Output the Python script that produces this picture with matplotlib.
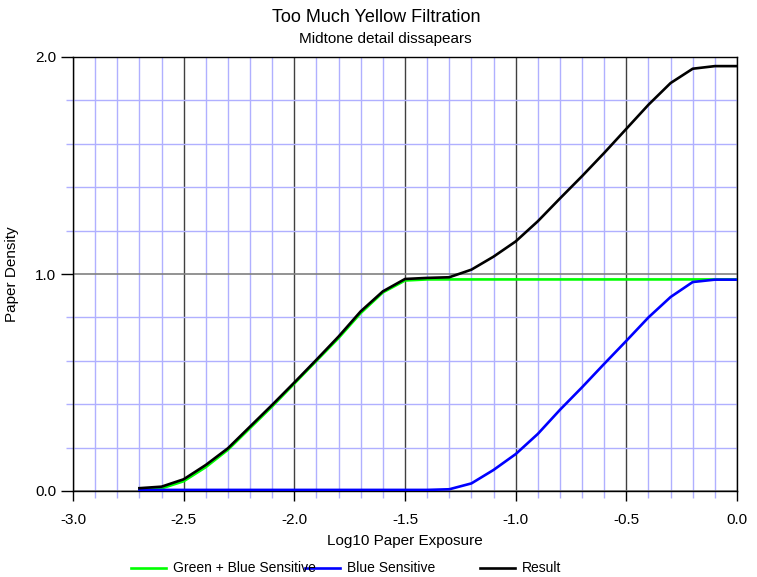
import numpy as np
import matplotlib
matplotlib.use('Agg')
import matplotlib.pyplot as plt
from matplotlib.lines import Line2D
from matplotlib.ticker import MultipleLocator, FormatStrFormatter

plt.rcParams['font.family'] = ['Liberation Sans', 'DejaVu Sans']

# log10 exposure
x = [-2.7, -2.6, -2.5, -2.4, -2.3, -2.2, -2.1, -2.0, -1.9, -1.8, -1.7, -1.6, -1.5,
     -1.4, -1.3, -1.2, -1.1, -1.0, -0.9, -0.8, -0.7, -0.6, -0.5, -0.4, -0.3, -0.2, -0.1, 0.0]

# 绿+蓝感光层
green_blue = [0.005, 0.012, 0.045, 0.11, 0.19, 0.29, 0.39, 0.495, 0.60, 0.705, 0.82, 0.915, 0.97,
              0.975, 0.975, 0.975, 0.975, 0.975, 0.975, 0.975, 0.975, 0.975, 0.975, 0.975, 0.975, 0.975, 0.975, 0.975]
# 蓝感光层
blue = [0.005, 0.005, 0.005, 0.005, 0.005, 0.005, 0.005, 0.005, 0.005, 0.005, 0.005, 0.005, 0.005,
        0.005, 0.008, 0.035, 0.097, 0.17, 0.263, 0.374, 0.478, 0.586, 0.692, 0.80, 0.894, 0.963, 0.974, 0.974]
# 结果
result = [0.013, 0.02, 0.054, 0.12, 0.197, 0.297, 0.397, 0.50, 0.605, 0.712, 0.828, 0.92, 0.977,
          0.982, 0.985, 1.02, 1.08, 1.15, 1.243, 1.348, 1.451, 1.558, 1.669, 1.78, 1.88, 1.946, 1.958, 1.958]

labels = ['Green + Blue Sensitive', 'Blue Sensitive', 'Result']
colors = ['#00ff00', '#0000ff', '#000000']

fig = plt.figure(figsize=(7.57, 5.77), dpi=100)
ax = fig.add_axes([73/757, 1-491/577, 664/757, 434/577])

ax.set_xlim(-3.0, 0.0)
ax.set_ylim(0.0, 2.0)
ax.xaxis.set_major_locator(MultipleLocator(0.5))
ax.xaxis.set_minor_locator(MultipleLocator(0.1))
ax.yaxis.set_major_locator(MultipleLocator(1.0))
ax.yaxis.set_minor_locator(MultipleLocator(0.2))
ax.xaxis.set_major_formatter(FormatStrFormatter('%.1f'))
ax.yaxis.set_major_formatter(FormatStrFormatter('%.1f'))

# 网格
ax.grid(which='minor', color='#b0b0ff', lw=1.0)
ax.grid(which='major', axis='x', color='#404040', lw=1.0)
ax.grid(which='major', axis='y', color='#808080', lw=1.2)
ax.set_axisbelow(True)

ax.tick_params(which='major', length=7, width=1, color='black', labelsize=11)
ax.tick_params(axis='x', which='major', pad=9)
ax.tick_params(which='minor', length=5, width=1, color='#b0b0ff')
ax.tick_params(axis='y', which='major', length=9, pad=3)

for s in ax.spines.values():
    s.set_color('black')
    s.set_linewidth(1.0)

data = [green_blue, blue, result]
for d, c in zip(data, colors):
    ax.plot(x, d, color=c, lw=1.9, zorder=3)

ax.set_xlabel('Log10 Paper Exposure', fontsize=11, labelpad=5)
ax.set_ylabel('Paper Density', fontsize=11, labelpad=12)

fig.text(376/757, 1-17/577, 'Too Much Yellow Filtration', ha='center', va='center', fontsize=13)
fig.text(385/757, 1-39/577, 'Midtone detail dissapears', ha='center', va='center', fontsize=11)

# 图例（手动排布）
leg_x = [131, 305, 480]
ly = 1 - 568/577
for lx, lab, c in zip(leg_x, labels, colors):
    fig.add_artist(Line2D([lx/757, (lx+35)/757], [ly, ly], color=c, lw=1.9))
    fig.text((lx+42)/757, ly, lab, ha='left', va='center', fontsize=10)

fig.savefig('out.png', dpi=100)
